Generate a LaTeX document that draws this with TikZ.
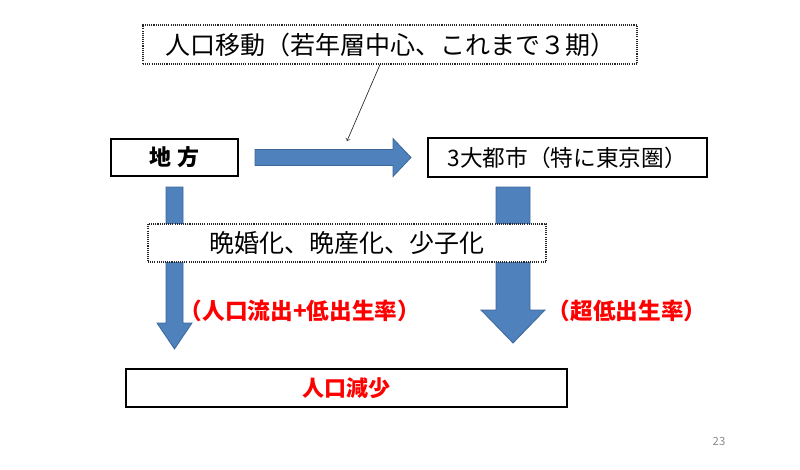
\documentclass[tikz,border=0pt]{standalone}
\usepackage{fontspec}
\setmainfont{Noto Sans CJK JP}
\usepackage{tikz}
\usetikzlibrary{positioning}

\definecolor{arrowblue}{HTML}{4F81BD}
\definecolor{arrowedge}{HTML}{3C679A}
\definecolor{pagegray}{HTML}{8C8C8C}

\tikzset{
  box/.style={draw=black, line width=1.4pt, fill=white, inner sep=0pt,
    font=\fontsize{16.5pt}{20pt}\selectfont},
  dotbox/.style={draw=black!85, line width=0.8pt, dash pattern=on 0.8pt off 0.8pt,
    fill=white, inner sep=0pt, font=\fontsize{18.75pt}{22pt}\selectfont},
  redlabel/.style={text=red, inner sep=0pt,
    font=\fontsize{17pt}{20pt}\selectfont\bfseries},
  blockarrow/.style={fill=arrowblue, draw=arrowedge, line width=0.6pt},
}

\begin{document}
\begin{tikzpicture}[x=0.75pt, y=-0.75pt]
      \useasboundingbox (0,0) rectangle (800,469);
        \node[dotbox, minimum width=370.5pt, minimum height=29.25pt] (idou) at (390,44.5) {人口移動（若年層中心、これまで３期）};
        \node[box, line width=1.5pt, minimum width=95.25pt, minimum height=27.75pt] (chiho) at (174.5,157.5) {\bfseries 地 方};
        \node[box, line width=1.2pt, font=\fontsize{17pt}{20pt}\selectfont, minimum width=209.25pt, minimum height=29.25pt, right=141pt of chiho] (toshi) {3大都市（特に東京圏）};
        % block arrows
        \draw[blockarrow] (255,149.5) -- (393,149.5) -- (393,138.5) -- (411,157.5) -- (393,176.5) -- (393,165.5) -- (255,165.5) -- cycle;
        \draw[blockarrow] (166,187) -- (183,187) -- (183,323) -- (192,323) -- (174.5,349) -- (157,323) -- (166,323) -- cycle;
        \draw[blockarrow] (496,187) -- (530,187) -- (530,310) -- (545,310) -- (513,343) -- (481,310) -- (496,310) -- cycle;
        \node[dotbox, minimum width=298.5pt, minimum height=28.5pt] (bankon) at (347,243) {晩婚化、晩産化、少子化};
        \node[redlabel] (ryushutsu) at (300,311) {（人口流出+低出生率）};
        \node[redlabel] (choteika) at (627,311) {（超低出生率）};
        \node[box, line width=1.5pt, text=red, minimum width=330.75pt, minimum height=28.5pt] (gensho) at (346.5,388) {\bfseries 人口減少};
        \coordinate (idoutip) at (347,141);
        \draw[->, line width=0.5pt, black!85] ([xshift=-7.5pt]idou.south) -- (idoutip);
        \node[text=pagegray, font=\fontsize{8.5pt}{9pt}\selectfont] (page) at (719,441) {23};
\end{tikzpicture}
\end{document}
